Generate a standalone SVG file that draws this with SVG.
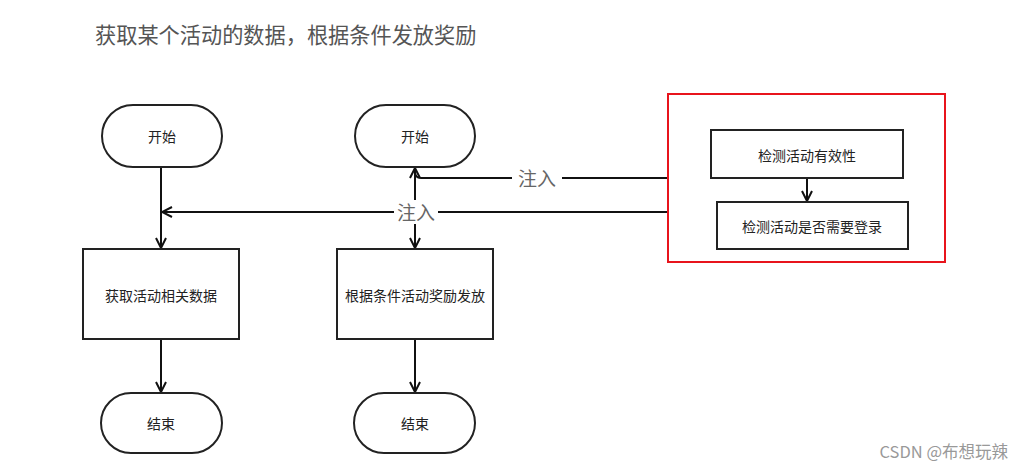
<svg xmlns="http://www.w3.org/2000/svg" width="1023" height="469" viewBox="0 0 1023 469">
<style>
.shape{fill:#fff;stroke:#222;stroke-width:2}
.t{font-family:"Noto Sans CJK SC","Noto Sans",sans-serif;font-size:14px;fill:#222;text-anchor:middle;dominant-baseline:central}
.lbl{font-family:"Noto Sans CJK SC",sans-serif;font-size:19px;fill:#666;text-anchor:middle;dominant-baseline:central}
.c{fill:none;stroke:#111;stroke-width:2}
</style>
<defs>
<marker id="arr" viewBox="0 0 12 12" refX="11" refY="6" markerWidth="12" markerHeight="12" markerUnits="userSpaceOnUse" orient="auto">
<path d="M1,1 L11,6 L1,11" fill="none" stroke="#111" stroke-width="2"/>
</marker>
</defs>
<rect width="1023" height="469" fill="#fff"/>
<text x="95" y="33" font-family="Noto Sans CJK SC,sans-serif" font-size="21.2" fill="#555" dominant-baseline="central">获取某个活动的数据，根据条件发放奖励</text>

<g id="connectors">
<path class="c" d="M161,167 V248" marker-end="url(#arr)"/>
<path class="c" d="M161,339 V392" marker-end="url(#arr)"/>
<path class="c" d="M415,167 V248" marker-end="url(#arr)"/>
<path class="c" d="M415,339 V392" marker-end="url(#arr)"/>
<path class="c" d="M807,178 V201" marker-end="url(#arr)"/>
<path class="c" d="M668,178 H421 Q415,178 415,172 V168" marker-end="url(#arr)"/>
<path class="c" d="M668,212 H162" marker-end="url(#arr)"/>
<rect x="512" y="166" width="50" height="24" fill="#fff"/>
<text class="lbl" x="537" y="177">注入</text>
<rect x="394" y="200" width="44" height="24" fill="#fff"/>
<text class="lbl" x="416" y="211">注入</text>
</g>

<g id="start1"><rect class="shape" x="102" y="105" width="120" height="62" rx="31"/><text class="t" x="162" y="136">开始</text></g>
<g id="start2"><rect class="shape" x="355" y="105" width="120" height="62" rx="31"/><text class="t" x="415" y="136">开始</text></g>
<g id="fetch"><rect class="shape" x="83" y="249" width="156" height="90"/><text class="t" x="161" y="295">获取活动相关数据</text></g>
<g id="reward"><rect class="shape" x="337" y="249" width="156" height="90"/><text class="t" x="415" y="295">根据条件活动奖励发放</text></g>
<g id="end1"><rect class="shape" x="101" y="393" width="121" height="60" rx="30"/><text class="t" x="161" y="423">结束</text></g>
<g id="end2"><rect class="shape" x="354" y="393" width="121" height="60" rx="30"/><text class="t" x="415" y="423">结束</text></g>
<g id="inject"><rect x="668" y="94" width="277" height="168" fill="none" stroke="#e8141c" stroke-width="2"/></g>
<g id="check1"><rect class="shape" x="711" y="130" width="192" height="48"/><text class="t" x="807" y="155">检测活动有效性</text></g>
<g id="check2"><rect class="shape" x="717" y="202" width="191" height="47"/><text class="t" x="812" y="226">检测活动是否需要登录</text></g>
<text x="1008" y="451" text-anchor="end" font-family="Noto Sans CJK SC,sans-serif" font-size="16.5" fill="#999" dominant-baseline="central">CSDN @布想玩辣</text>
</svg>
